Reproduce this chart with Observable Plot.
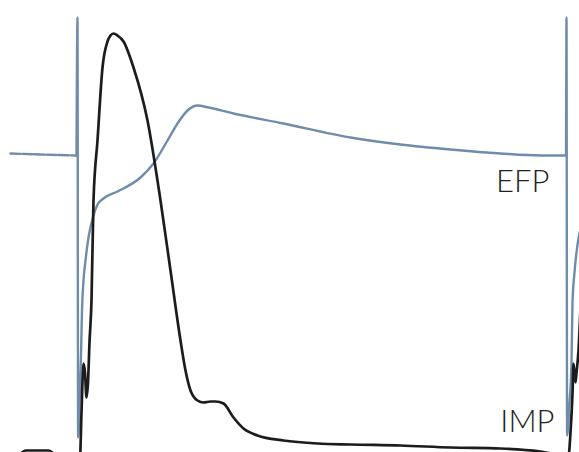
<!DOCTYPE html>
<html>
<head>
<meta charset="utf-8">
<script src="https://cdn.jsdelivr.net/npm/d3@7"></script>
<script src="https://cdn.jsdelivr.net/npm/@observablehq/plot@0.6"></script>
<style>
  html, body { margin: 0; padding: 0; background: #fff; }
  #chart svg { display: block; }
</style>
</head>
<body>
<div id="chart"></div>
<script>
// Extracellular field potential (EFP) trace: time (a.u.) and amplitude (a.u.)
const efpTime = [10, 40, 76, 77, 77.6, 79, 80.5, 81.5, 83, 85, 88, 93, 97, 103, 117, 140, 153, 167, 177, 187, 197, 208, 233, 283, 350, 400, 450, 500, 540, 565.5, 566, 566.6, 569, 571, 572, 574, 579];
const efpValue = [299, 298, 297, 435, 15, 50, 97, 142, 172, 192, 215, 237, 248, 254, 261, 275, 289, 312, 329, 342, 347, 345, 339, 329, 315, 308, 303, 299, 297, 297, 435, 17, 50, 90, 150, 180, 220];

// Intracellular membrane potential (IMP) trace
const impTime = [0, 20, 25, 48, 55, 79.5, 81, 83, 84.5, 86, 87.5, 89, 91, 93, 97, 102, 107, 110, 113, 117, 123, 133, 147, 160, 170, 180, 185, 190, 197, 203, 210, 215, 223, 233, 243, 257, 283, 317, 350, 400, 450, 500, 540, 565, 568, 570, 572, 573, 575, 576, 578, 580];
const impValue = [-4, -1, 2, 2, -2, -4, 40, 89, 80, 55, 70, 110, 152, 252, 312, 385, 411, 417, 419, 417, 411, 385, 332, 252, 182, 112, 82, 62, 52, 50, 51, 51, 49, 35, 24, 17, 12, 9, 8, 7, 5, 4, 1, -3, -3, 20, 59, 89, 70, 80, 102, 145];

const labels = ["EFP", "IMP"];
const labelTime = [549, 554];
const labelValue = [270.5, 30.5];

const efp = efpTime.map((t, i) => ({t, v: efpValue[i]}));
const imp = impTime.map((t, i) => ({t, v: impValue[i]}));
const lab = labels.map((name, i) => ({name, t: labelTime[i], v: labelValue[i]}));

const efpBase = efp.filter(d => d.t <= 76);
const efpMain = efp.filter(d => d.t >= 76);

const chart = Plot.plot({
  width: 579,
  height: 452,
  margin: 0,
  x: {domain: [0, 579], axis: null},
  y: {domain: [0, 452], axis: null},
  marks: [
    Plot.line(efpBase, {x: "t", y: "v", stroke: "#6f8dab", strokeWidth: 2.4, strokeDasharray: "10,2", clip: true}),
    Plot.line(efpMain, {x: "t", y: "v", stroke: "#6f8dab", strokeWidth: 2.4, curve: "monotone-x", clip: true}),
    Plot.line(imp, {x: "t", y: "v", stroke: "#1c1c1c", strokeWidth: 2.7, curve: "monotone-x", clip: true}),
    Plot.text(lab, {x: "t", y: "v", text: "name", textAnchor: "end", lineAnchor: "middle", fontSize: 31, fontWeight: 300, fill: "#222", fontFamily: "Lato, 'Open Sans', sans-serif"})
  ]
});
document.getElementById("chart").appendChild(chart);
</script>
</body>
</html>
